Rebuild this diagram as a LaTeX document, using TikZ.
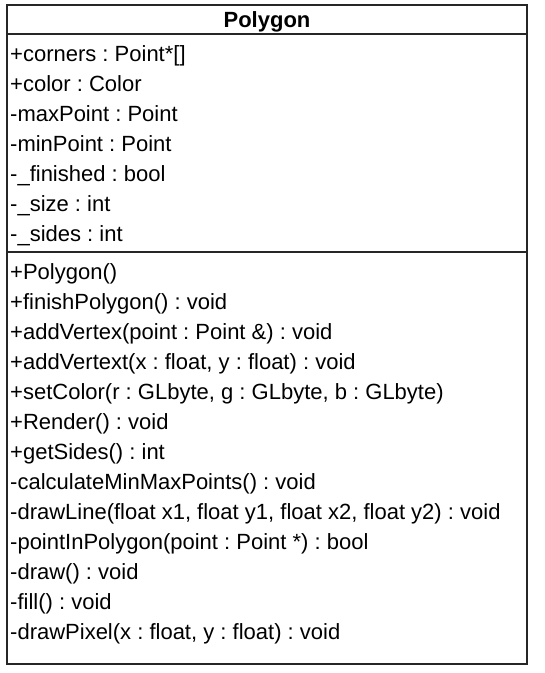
\documentclass[tikz,border=0pt]{standalone}
\usepackage{fontspec}
\setmainfont{Liberation Sans}
\usepackage{tikz}
\newcommand{\umlfont}{\fontsize{22}{26}\selectfont\frenchspacing}

\begin{document}
\begin{tikzpicture}[x=1pt, y=-1pt,
  member/.style={anchor=base west, inner sep=0pt, font=\umlfont},
  frame/.style={draw=black!85, line width=1.5pt}]
  \useasboundingbox (0,0) rectangle (545,673);
  % class box and compartments
  \draw[frame] (7,5) rectangle (527,664);
  \draw[frame] (7,34) -- (527,34);
  \draw[frame] (7,252) -- (527,252);
  \node[anchor=base, inner sep=0pt, font=\umlfont\bfseries] (title) at (267,27) {Polygon};
  % attributes
  \node[member] (a1) at (10,61) {+corners : Point*[]};
  \node[member] (a2) at (10,91) {+color : Color};
  \node[member] (a3) at (10,121) {-maxPoint : Point};
  \node[member] (a4) at (10,151) {-minPoint : Point};
  \node[member] (a5) at (10,181) {-\_finished : bool};
  \node[member] (a6) at (10,211) {-\_size : int};
  \node[member] (a7) at (10,241) {-\_sides : int};
  % operations
  \node[member] (m1) at (10,279) {+Polygon()};
  \node[member] (m2) at (10,309) {+finishPolygon() : void};
  \node[member] (m3) at (10,339) {+addVertex(point : Point \&) : void};
  \node[member] (m4) at (10,369) {+addVertext(x : float, y : float) : void};
  \node[member] (m5) at (10,399) {+setColor(r : GLbyte, g : GLbyte, b : GLbyte)};
  \node[member] (m6) at (10,429) {+Render() : void};
  \node[member] (m7) at (10,459) {+getSides() : int};
  \node[member] (m8) at (10,489) {-calculateMinMaxPoints() : void};
  \node[member] (m9) at (10,519) {-drawLine(float x1, float y1, float x2, float y2) : void};
  \node[member] (m10) at (10,549) {-pointInPolygon(point : Point *) : bool};
  \node[member] (m11) at (10,579) {-draw() : void};
  \node[member] (m12) at (10,609) {-fill() : void};
  \node[member] (m13) at (10,639) {-drawPixel(x : float, y : float) : void};
\end{tikzpicture}
\end{document}
